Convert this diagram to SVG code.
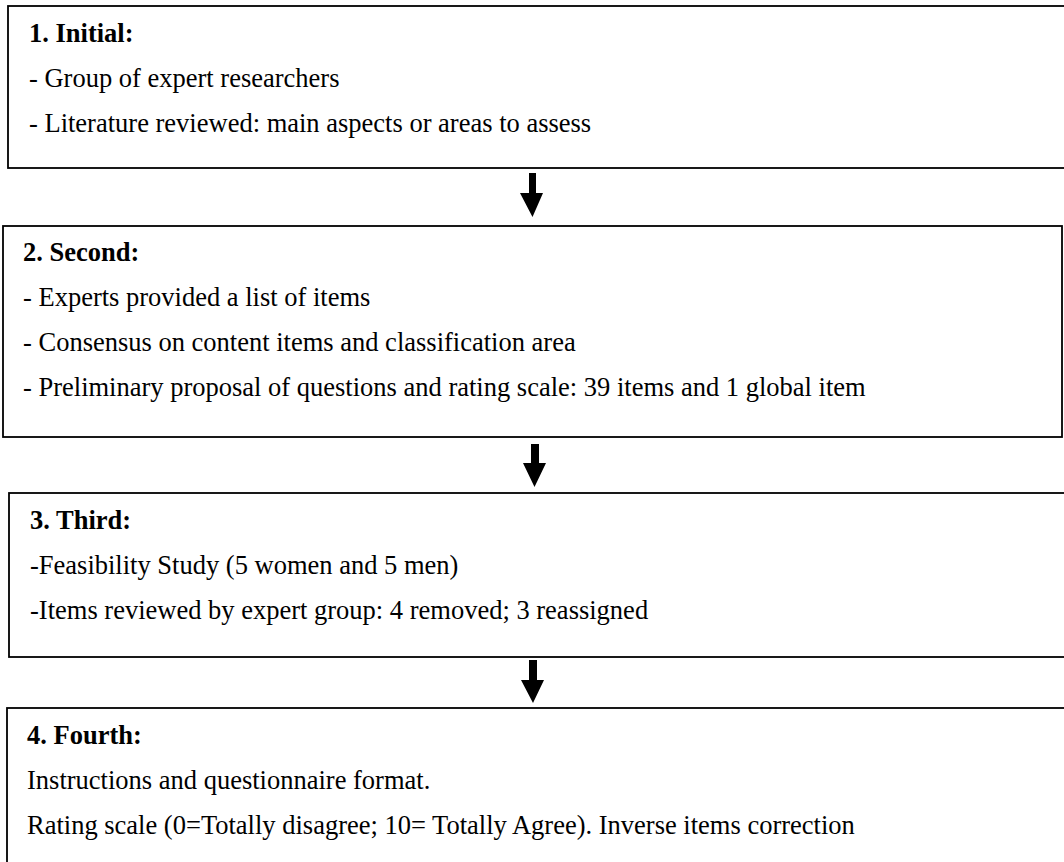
<svg xmlns="http://www.w3.org/2000/svg" width="1064" height="862" viewBox="0 0 1064 862">
<style>
.box{fill:#fff;stroke:#000;stroke-width:1.8}
text{font-family:"Liberation Serif","Times New Roman",serif;font-size:26.5px;fill:#000}
.h{font-weight:bold}
.arr{fill:#000;stroke:none}
</style>
<rect width="1064" height="862" fill="#fff"/>
<g id="node1">
<rect class="box" x="8" y="6" width="1070" height="162"/>
<text class="h" x="29" y="42">1. Initial:</text>
<text x="29" y="87">- Group of expert researchers</text>
<text x="29" y="132">- Literature reviewed: main aspects or areas to assess</text>
</g>
<g id="node2">
<rect class="box" x="3" y="226" width="1059" height="211"/>
<text class="h" x="23" y="261">2. Second:</text>
<text x="23" y="306">- Experts provided a list of items</text>
<text x="23" y="351">- Consensus on content items and classification area</text>
<text x="23" y="396">- Preliminary proposal of questions and rating scale: 39 items and 1 global item</text>
</g>
<g id="node3">
<rect class="box" x="9" y="493" width="1070" height="164"/>
<text class="h" x="30" y="529">3. Third:</text>
<text x="30" y="574">-Feasibility Study (5 women and 5 men)</text>
<text x="30" y="619">-Items reviewed by expert group: 4 removed; 3 reassigned</text>
</g>
<g id="node4">
<rect class="box" x="7" y="708" width="1070" height="170"/>
<text class="h" x="27" y="744">4. Fourth:</text>
<text x="27" y="789">Instructions and questionnaire format.</text>
<text x="27" y="834">Rating scale (0=Totally disagree; 10= Totally Agree). Inverse items correction</text>
</g>
<g id="connectors">
<polygon class="arr" points="529,173 536,173 536,193 543,193 532.5,217 520,193 529,193"/>
<polygon class="arr" points="531,444 539,444 539,463 546,463 534.5,487 523,463 531,463"/>
<polygon class="arr" points="529,660 537,660 537,680 544,680 533,703 521,680 529,680"/>
</g>
</svg>
